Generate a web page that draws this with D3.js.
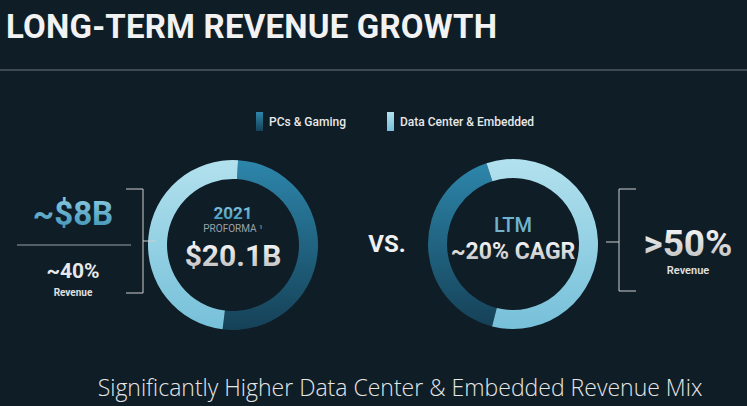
<!DOCTYPE html><html><head><meta charset="utf-8">
<script src="https://cdn.jsdelivr.net/npm/d3@7"></script>
<style>body{margin:0;background:#0f1d27;}svg{display:block}</style></head><body>
<svg id="c" width="747" height="406"></svg>
<script>
const categories=["PCs & Gaming","Data Center & Embedded"];
const proforma2021=[51,49];   // share of arc as drawn
const ltm=[41,59];
const title="LONG-TERM REVENUE GROWTH";
const footer="Significantly Higher Data Center & Embedded Revenue Mix";

const svg=d3.select("#c");
const defs=svg.append("defs");
function grad(id,c1,c2){const g=defs.append("linearGradient").attr("id",id).attr("x1",0).attr("y1",0).attr("x2",0).attr("y2",1);
g.append("stop").attr("offset","0%").attr("stop-color",c1);g.append("stop").attr("offset","100%").attr("stop-color",c2);}
grad("dk","#2d86ab","#154157");grad("lt","#b2e1ee","#76c0d9");
grad("txtb","#8fcde4","#3a8fb3");grad("txtw","#ffffff","#b9b9b9");
const fills=["url(#dk)","url(#lt)"];
svg.append("rect").attr("width",747).attr("height",406).attr("fill","#0f1d27");
svg.append("text").attr("x",6).attr("y",38).text(title).attr("fill","#f2f2f2").attr("font-family","Roboto").attr("font-weight",700).attr("font-size",33).attr("letter-spacing",0.2);
svg.append("line").attr("x1",0).attr("x2",747).attr("y1",70).attr("y2",70).attr("stroke","#6f7880").attr("stroke-width",1);

const lg=[{x:256,t:categories[0],f:fills[0]},{x:387,t:categories[1],f:fills[1]}];
lg.forEach(d=>{svg.append("rect").attr("x",d.x).attr("y",112).attr("width",7).attr("height",19).attr("fill",d.f);
svg.append("text").attr("x",d.x+13).attr("y",126).text(d.t).attr("fill","#e8e8e8").attr("font-family","Roboto").attr("font-weight",500).attr("font-size",12);});

function donut(cx,cy,vals,start){
 const pie=d3.pie().sort(null).startAngle(start).endAngle(start+2*Math.PI)(vals);
 const arc=d3.arc().innerRadius(66).outerRadius(85);
 const g=svg.append("g").attr("transform",`translate(${cx},${cy})`);
 g.selectAll("path").data(pie).join("path").attr("d",arc).attr("fill",(d,i)=>fills[i]);
}
donut(233,245,proforma2021,0.06);
donut(513,244,ltm,3.39);
</script>
<script>
const s=d3.select("#c");
function t(x,y,txt,size,fill,weight,anchor="middle",fam="Roboto"){return s.append("text").attr("x",x).attr("y",y).text(txt).attr("fill",fill).attr("font-size",size).attr("font-weight",weight).attr("text-anchor",anchor).attr("font-family",fam);}
t(233,219,"2021",17,"url(#txtb)",700);
t(233,232,"PROFORMA ¹",10,"#9aa3aa",400);
t(233,266,"$20.1B",30,"url(#txtw)",700);
t(387,252,"VS.",24,"#f0f0f0",700);
t(513,232,"LTM",20,"#6fb3cf",500);
t(513,259,"~20% CAGR",23,"url(#txtw)",700);
t(73,225,"~$8B",33,"url(#txtb)",700);
t(73,278,"~40%",21,"#e8e8e8",700);
t(73,296,"Revenue",10,"#e0e0e0",700);
t(688,256,">50%",37,"url(#txtw)",700);
t(688,274,"Revenue",11,"#e0e0e0",600);
t(400,396,footer,23,"#e6e6e6",300,"middle","Open Sans");
const st="#d0d0d0";
function ln(x1,y1,x2,y2,c=st){s.append("line").attr("x1",x1).attr("y1",y1).attr("x2",x2).attr("y2",y2).attr("stroke",c).attr("stroke-width",1);}
ln(126,189,143,189);ln(143,189,143,293);ln(126,293,143,293);ln(143,241,156,241);
ln(17,245,131,245,"#9aa0a5");
ln(636,189,619,189);ln(619,189,619,291);ln(636,291,619,291);ln(606,242,619,242);
</script>
</body></html>
